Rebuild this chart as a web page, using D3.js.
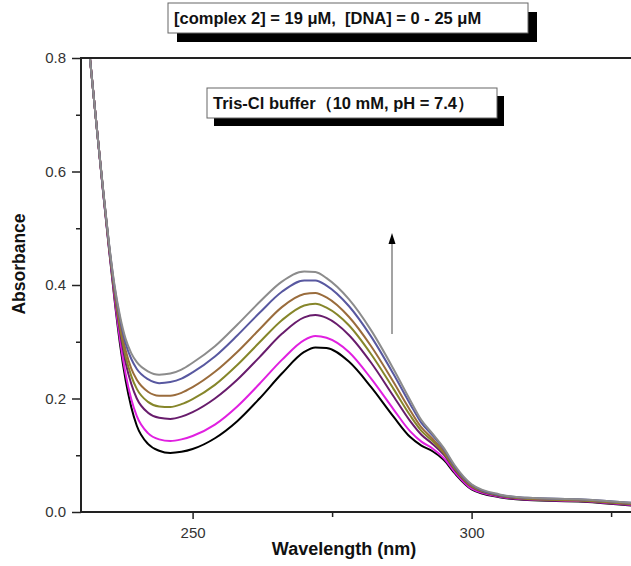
<!DOCTYPE html>
<html>
<head>
<meta charset="utf-8">
<script src="https://cdn.jsdelivr.net/npm/d3@7"></script>
<style>
  body { margin: 0; background: #fff; }
  #chart-container svg { display: block; }
</style>
</head>
<body>
<div id="chart-container"></div>
<script>
const wavelengths = [231, 232, 233, 234, 235, 236, 237, 238, 239, 240, 242, 244, 246, 248, 250, 254, 258, 262, 266, 270, 272, 274, 278, 282, 286, 289, 291, 293, 295, 297, 300, 305, 310, 320, 330];

// Absorbance of each titration step, from [DNA] = 0 up to 25 uM
const dna0 = [0.86, 0.76, 0.66, 0.560, 0.465, 0.375, 0.295, 0.232, 0.185, 0.152, 0.120, 0.108, 0.104, 0.106, 0.111, 0.130, 0.160, 0.200, 0.244, 0.282, 0.290, 0.289, 0.265, 0.220, 0.168, 0.132, 0.117, 0.107, 0.092, 0.068, 0.040, 0.026, 0.021, 0.018, 0.010];
const dna1 = [0.86, 0.76, 0.66, 0.561, 0.467, 0.379, 0.303, 0.243, 0.199, 0.169, 0.139, 0.128, 0.125, 0.128, 0.134, 0.154, 0.186, 0.226, 0.268, 0.303, 0.310, 0.307, 0.282, 0.235, 0.181, 0.142, 0.124, 0.112, 0.095, 0.070, 0.041, 0.027, 0.022, 0.019, 0.011];
const dna2 = [0.86, 0.76, 0.66, 0.562, 0.469, 0.386, 0.317, 0.263, 0.226, 0.200, 0.175, 0.166, 0.164, 0.168, 0.176, 0.200, 0.233, 0.273, 0.314, 0.343, 0.347, 0.342, 0.312, 0.263, 0.204, 0.160, 0.136, 0.120, 0.101, 0.074, 0.044, 0.028, 0.023, 0.020, 0.012];
const dna3 = [0.86, 0.76, 0.66, 0.563, 0.471, 0.389, 0.324, 0.274, 0.240, 0.217, 0.194, 0.186, 0.185, 0.190, 0.199, 0.224, 0.259, 0.299, 0.338, 0.364, 0.367, 0.360, 0.329, 0.278, 0.217, 0.170, 0.143, 0.125, 0.104, 0.076, 0.045, 0.029, 0.023, 0.020, 0.013];
const dna4 = [0.86, 0.76, 0.66, 0.564, 0.472, 0.393, 0.331, 0.285, 0.253, 0.233, 0.212, 0.205, 0.205, 0.210, 0.220, 0.247, 0.282, 0.322, 0.361, 0.384, 0.386, 0.378, 0.344, 0.292, 0.229, 0.179, 0.149, 0.129, 0.107, 0.078, 0.046, 0.030, 0.024, 0.021, 0.014];
const dna5 = [0.86, 0.76, 0.66, 0.564, 0.474, 0.397, 0.340, 0.297, 0.270, 0.252, 0.234, 0.227, 0.229, 0.235, 0.246, 0.274, 0.311, 0.351, 0.388, 0.408, 0.408, 0.399, 0.363, 0.309, 0.243, 0.190, 0.157, 0.135, 0.111, 0.080, 0.048, 0.030, 0.025, 0.022, 0.015];
const dna6 = [0.86, 0.76, 0.66, 0.565, 0.475, 0.400, 0.345, 0.305, 0.280, 0.264, 0.248, 0.242, 0.244, 0.251, 0.263, 0.292, 0.330, 0.370, 0.406, 0.424, 0.423, 0.412, 0.375, 0.320, 0.252, 0.197, 0.162, 0.138, 0.113, 0.082, 0.049, 0.031, 0.025, 0.022, 0.015];

const spectra = [dna0, dna1, dna2, dna3, dna4, dna5, dna6];
const lineColors = ["#000000", "#e020e0", "#681c6c", "#86862a", "#9a6c3c", "#5858a0", "#8c8c8c"];

// Tick values
const xMajorTicks = [250, 300];
const xMinorTicks = [275, 325];
const yMajorTicks = [0.0, 0.2, 0.4, 0.6, 0.8];
const yMinorTicks = [0.1, 0.3, 0.5, 0.7];

// Annotation texts
const concText = "[complex 2] = 19 \u03bcM,  [DNA] = 0 - 25 \u03bcM";
const bufferText = "Tris-Cl buffer\uff0810 mM, pH = 7.4\uff09";

const drawChart = () => {
    const width = 631;
    const height = 566;

    // plot area
    const margin = { top: 58, left: 81, bottom: 54 };
    const plotBottom = height - margin.bottom;

    const svg = d3.select("#chart-container")
        .append("svg")
        .attr("width", width)
        .attr("height", height)
        .style("font-family", "'Liberation Sans', Arial, sans-serif");

    // 1 nm = 5.58 px, the frame runs off the right edge of the picture
    const x = d3.scaleLinear()
        .domain([230, 330])
        .range([margin.left, margin.left + 558]);

    const y = d3.scaleLinear()
        .domain([0, 0.8])
        .range([plotBottom, margin.top]);

    svg.append("clipPath")
        .attr("id", "plot-clip")
        .append("rect")
        .attr("x", margin.left)
        .attr("y", margin.top)
        .attr("width", width - margin.left)
        .attr("height", plotBottom - margin.top);

    // spectra
    const line = d3.line()
        .x((d, i) => x(wavelengths[i]))
        .y(d => y(d))
        .curve(d3.curveMonotoneX);

    svg.append("g")
        .attr("clip-path", "url(#plot-clip)")
        .selectAll("path")
        .data(spectra)
        .join("path")
        .attr("fill", "none")
        .attr("stroke", (d, i) => lineColors[i])
        .attr("stroke-width", 2)
        .attr("stroke-linejoin", "round")
        .attr("d", line);

    // axes
    const axisColor = "#222";

    const xAxis = svg.append("g")
        .attr("transform", `translate(0,${plotBottom})`)
        .call(d3.axisBottom(x).tickValues(xMajorTicks).tickSize(7).tickPadding(8).tickFormat(d3.format("d")))
        .call(g => g.select(".domain").remove());
    xAxis.selectAll("line").attr("stroke", axisColor).attr("stroke-width", 1.5);
    xAxis.selectAll("text").attr("font-size", 15).attr("fill", "#333").attr("font-family", null);

    svg.append("g")
        .attr("transform", `translate(0,${plotBottom})`)
        .call(d3.axisBottom(x).tickValues(xMinorTicks).tickSize(5).tickFormat(""))
        .call(g => g.select(".domain").remove())
        .selectAll("line").attr("stroke", axisColor).attr("stroke-width", 1.5);

    const yAxis = svg.append("g")
        .attr("transform", `translate(${margin.left},0)`)
        .call(d3.axisLeft(y).tickValues(yMajorTicks).tickSize(9).tickPadding(6).tickFormat(d3.format(".1f")))
        .call(g => g.select(".domain").remove());
    yAxis.selectAll("line").attr("stroke", axisColor).attr("stroke-width", 1.5);
    yAxis.selectAll("text").attr("font-size", 15).attr("fill", "#333").attr("font-family", null);

    svg.append("g")
        .attr("transform", `translate(${margin.left},0)`)
        .call(d3.axisLeft(y).tickValues(yMinorTicks).tickSize(5).tickFormat(""))
        .call(g => g.select(".domain").remove())
        .selectAll("line").attr("stroke", axisColor).attr("stroke-width", 1.5);

    // frame lines: left, bottom and top
    svg.append("path")
        .attr("fill", "none")
        .attr("stroke", axisColor)
        .attr("stroke-width", 2)
        .attr("d", `M${width},${margin.top}H${margin.left}V${plotBottom}H${width}`);

    // axis titles
    svg.append("text")
        .attr("x", 344)
        .attr("y", 555)
        .attr("text-anchor", "middle")
        .attr("font-size", 18)
        .attr("font-weight", "bold")
        .attr("fill", "#111")
        .text("Wavelength (nm)");

    svg.append("text")
        .attr("transform", "translate(25,264) rotate(-90)")
        .attr("text-anchor", "middle")
        .attr("font-size", 17.5)
        .attr("font-weight", "bold")
        .attr("fill", "#111")
        .text("Absorbance");

    // boxed notes with a drop shadow
    const note = (bx, by, bw, bh, sx, sy, label) => {
        const g = svg.append("g");
        g.append("rect")
            .attr("x", bx + sx).attr("y", by + sy)
            .attr("width", bw).attr("height", bh)
            .attr("fill", "#000");
        g.append("rect")
            .attr("x", bx).attr("y", by)
            .attr("width", bw).attr("height", bh)
            .attr("fill", "#fff")
            .attr("stroke", "#666")
            .attr("stroke-width", 1);
        g.append("text")
            .attr("x", bx + 6)
            .attr("y", by + bh / 2 + 6)
            .attr("font-size", 16.5)
            .attr("font-weight", "bold")
            .attr("fill", "#111")
            .style("white-space", "pre")
            .text(label);
    };
    note(168, 3, 360, 30, 9, 9, concText);
    note(207, 88, 290, 30, 7, 8, bufferText);

    // arrow showing the rise in absorbance
    svg.append("line")
        .attr("x1", 392).attr("y1", 334)
        .attr("x2", 392).attr("y2", 242)
        .attr("stroke", "#666")
        .attr("stroke-width", 1.2);

    svg.append("path")
        .attr("d", "M388.5,244L392,233L395.5,244Z")
        .attr("fill", "#000");
};

drawChart();
</script>
</body>
</html>
